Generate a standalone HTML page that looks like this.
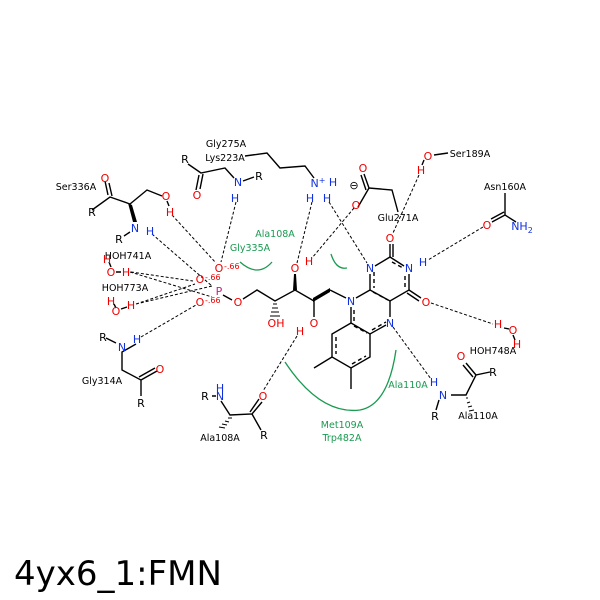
<!DOCTYPE html>
<html><head><style>body{margin:0;background:#fff}svg{display:block}</style></head><body>
<svg width="600" height="600" viewBox="0 0 600 600" xmlns="http://www.w3.org/2000/svg" font-family="DejaVu Sans, Liberation Sans, sans-serif" font-size="10">
<rect width="600" height="600" fill="#fff"/>
<g stroke="#000" stroke-width="1.4" fill="none">
<!-- Ser336 -->
<path d="M92 210 L110 197 L130 204 L147 190 L162 196"/>
<path d="M108 195 L105 181 M112 196 L109 183"/>
<path d="M167 201 L169 206 M130 232 L124 236"/>
<!-- Gly275/Lys223 -->
<path d="M188 164 L201 173 L225 168 L234 178 M243 181 L254 177"/>
<path d="M199 175 L196 190 M203 174 L200 189"/>
<path d="M245 156 L267 153 L280 168 L305 166 L314 178"/>
<!-- Glu -->
<path d="M358 207 L369 188 L392 190 L398 212 M369 188 L364 174 M366 190 L361 175"/>
<!-- Ser189 -->
<path d="M434 155 L448 153"/>
<!-- Asn -->
<path d="M505 193 L505 215 L516 222 M505 215 L492 222 M504 212 L491 219"/>
<!-- flavin -->
<path d="M375 266 L390 257 L404 266 M409 274 L409 290 L390 301 L370 290 L370 274"/>
<path d="M390 257 L390 244 M393 257 L393 244"/>
<path d="M409 290 L421 298 M407 293 L419 301"/>
<path d="M370 290 L356 298 M390 301 L390 317 M386 325 L370 334 L351 323 L351 307"/>
<path d="M351 323 L332 334 L332 357 L351 368 L370 357 L370 334"/>
<path d="M351 368 L351 389 M332 357 L314 368"/>
<g stroke-dasharray="4,3"><path d="M374 272 L374 288 M392 262 L403 268 M405 276 L405 288 M373 292 L388 300 M372 330 L386 322 M354 310 L354 322 M336 337 L336 354 M352 364 L366 356 M354 326 L367 333"/></g>
<!-- ribityl -->
<path d="M346 298 L330 290 M314 301 L295 290 L275 301 L257 290 L243 299 M314 301 L314 317 M232 300 L223 295"/>
<path d="M136 344 L122 352 L122 370 L141 380 L141 396 M141 380 L157 371 M139 377 L155 368 M106 338 L116 343"/>
<!-- Ala108 -->
<path d="M212 396 L216 396 M221 401 L230 415 L252 414 L262 402 M250 412 L259 399 M252 414 L261 430"/>
<!-- Ala110 -->
<path d="M451 395 L466 395 L476 375 L490 372 M476 375 L466 363 M473 377 L463 365 M439 400 L436 410"/>
<!-- waters -->
<path d="M109 262 L111 267 M116 272 L121 272 M114 304 L116 308 M121 309 L127 307 M504 328 L509 329 M513 335 L515 340"/>
<path d="M424 160 L422 165"/>
</g>
<!-- wedges -->
<g fill="#000">
<polygon points="128,203 132,205 137,222 133,222"/>
<polygon points="330,288 330,292 313,302 313,298" />
<polygon points="293,290 297,290 296,274 294,274"/>
</g>
<g stroke="#000" stroke-width="1">
<path d="M273 304 h4 M272 308 h6 M271 312 h8 M270 316 h10"/>
<path d="M228 418 l4 0 M225 421 l4 1 M222 424 l5 1 M219 427 l6 1"/>
<path d="M468 398 l-2 0 M470 402 l-3 1 M472 406 l-4 1 M474 410 l-5 1"/>
</g>
<!-- H bonds -->
<g stroke="#000" stroke-width="1" stroke-dasharray="3,2" fill="none">
<path d="M172 215 L216 263 M152 234 L212 286 M236 202 L221 262 M131 272 L193 281 M136 304 L195 284 M130 272 L212 297 M141 337 L196 305 M136 304 L212 286"/>
<path d="M312 202 L297 263 M329 202 L367 263 M354 208 L312 258 M419 175 L393 233 M483 227 L428 260 M431 303 L493 324 M393 327 L431 379 M297 336 L263 391"/>
</g>
<!-- hydrophobic arcs -->
<g stroke="#1a9a50" stroke-width="1.3" fill="none">
<path d="M240 262 Q258 278 272 262"/>
<path d="M331 254 Q336 270 347 268"/>
<path d="M285 362 Q320 415 360 410 Q388 405 396 350"/>
</g>
<g fill="#1a9a50" text-anchor="middle" font-size="9.5">
<text x="275" y="237">Ala108A</text>
<text x="250" y="251">Gly335A</text>
<text x="408" y="388">Ala110A</text>
<text x="342" y="428">Met109A</text>
<text x="342" y="441">Trp482A</text>
</g>
<!-- black labels -->
<g fill="#000" font-size="9.5" text-anchor="middle">
<text x="76" y="190">Ser336A</text>
<text x="226" y="147">Gly275A</text>
<text x="225" y="161">Lys223A</text>
<text x="398" y="221">Glu271A</text>
<text x="470" y="157">Ser189A</text>
<text x="505" y="190">Asn160A</text>
<text x="128" y="259">HOH741A</text>
<text x="125" y="291">HOH773A</text>
<text x="102" y="384">Gly314A</text>
<text x="220" y="441">Ala108A</text>
<text x="478" y="419">Ala110A</text>
<text x="493" y="354">HOH748A</text>
<text x="92" y="216" font-size="11">R</text>
<text x="185" y="163" font-size="11">R</text>
<text x="259" y="180" font-size="11">R</text>
<text x="119" y="243" font-size="11">R</text>
<text x="103" y="341" font-size="11">R</text>
<text x="141" y="407" font-size="11">R</text>
<text x="205" y="400" font-size="11">R</text>
<text x="264" y="439" font-size="11">R</text>
<text x="493" y="376" font-size="11">R</text>
<text x="435" y="420" font-size="11">R</text>
<text x="354" y="189" font-size="11">⊖</text>
</g>
<!-- O red -->
<g fill="#e00" font-size="11" text-anchor="middle">
<text x="105" y="182">O</text><text x="166" y="200">O</text><text x="170" y="216">H</text>
<text x="197" y="199">O</text>
<text x="363" y="172">O</text><text x="356" y="209">O</text>
<text x="428" y="160">O</text><text x="421" y="174">H</text>
<text x="487" y="229">O</text>
<text x="390" y="242">O</text><text x="426" y="306">O</text>
<text x="295" y="272">O</text><text x="309" y="265">H</text>
<text x="314" y="327">O</text><text x="300" y="335">H</text>
<text x="276" y="327">OH</text>
<text x="238" y="306">O</text>
<text x="219" y="272">O</text><text x="200" y="283">O</text><text x="200" y="306">O</text>
<text x="107" y="263">H</text><text x="111" y="276">O</text><text x="126" y="276">H</text>
<text x="111" y="305">H</text><text x="116" y="315">O</text><text x="131" y="309">H</text>
<text x="160" y="373">O</text>
<text x="263" y="400">O</text>
<text x="461" y="360">O</text>
<text x="498" y="328">H</text><text x="513" y="334">O</text><text x="517" y="348">H</text>
</g>
<g fill="#e00" font-size="8">
<text x="224" y="269">-.66</text><text x="205" y="280">-.66</text><text x="205" y="303">-.66</text>
</g>
<text x="219" y="295" fill="#c0208a" font-size="11" text-anchor="middle">P</text>
<!-- N blue -->
<g fill="#1030e0" font-size="11" text-anchor="middle">
<text x="135" y="232">N</text><text x="150" y="235">H</text>
<text x="238" y="186">N</text><text x="235" y="202">H</text>
<text x="318" y="187">N<tspan font-size="8" dy="-4">+</tspan></text><text x="333" y="186">H</text>
<text x="310" y="202">H</text><text x="327" y="202">H</text>
<text x="522" y="230">NH<tspan font-size="8" dy="3">2</tspan></text>
<text x="370" y="272">N</text><text x="409" y="272">N</text><text x="423" y="266">H</text>
<text x="351" y="305">N</text><text x="390" y="327">N</text>
<text x="122" y="351">N</text><text x="137" y="343">H</text>
<text x="220" y="392">H</text><text x="220" y="400">N</text>
<text x="434" y="386">H</text><text x="443" y="399">N</text>
</g>
<text x="14" y="585" font-size="34" fill="#000" font-family="DejaVu Sans, sans-serif">4yx6_1:FMN</text>
</svg>
</body></html>
